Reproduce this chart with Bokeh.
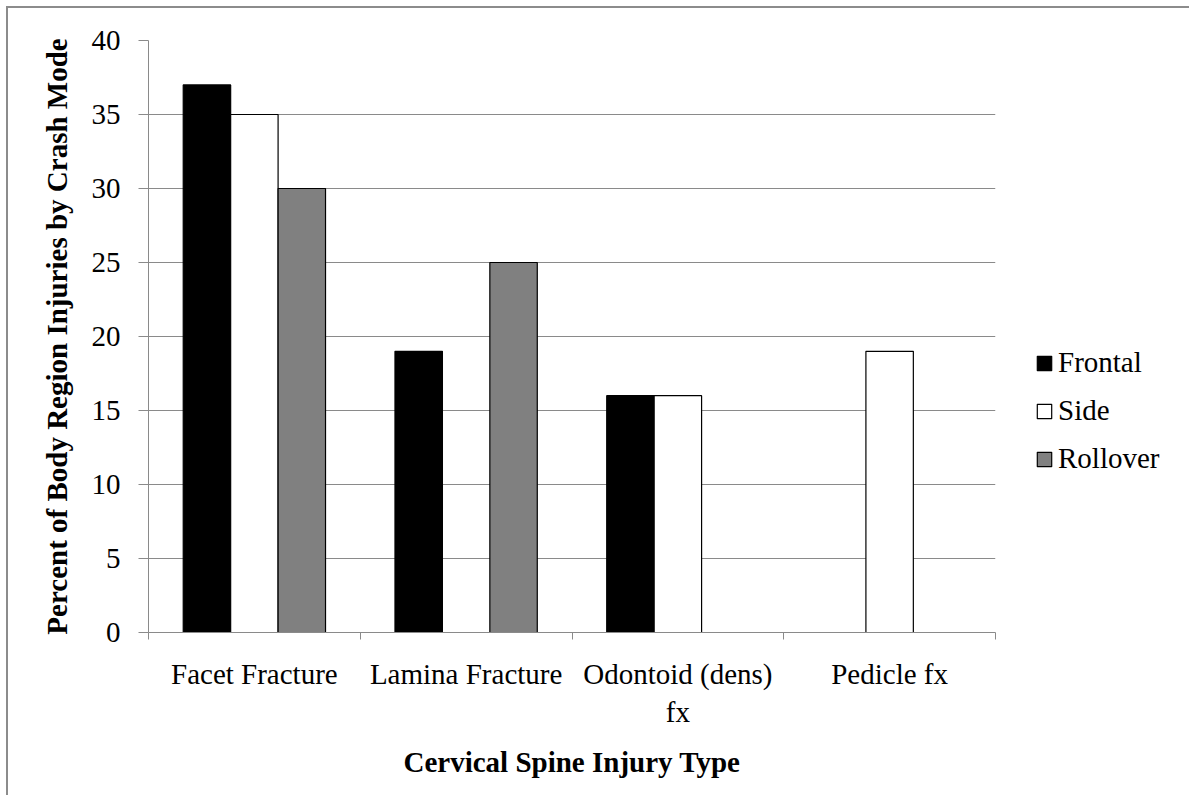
from bokeh.plotting import figure
from bokeh.models import (ColumnDataSource, Range1d, LinearAxis, FixedTicker, Legend, LegendItem)
from bokeh.transform import dodge
from bokeh.embed import file_html
from bokeh.resources import INLINE

# ---- data ----
categories = ["Facet Fracture", "Lamina Fracture", "Odontoid (dens) fx", "Pedicle fx"]
category_labels = ["Facet Fracture", "Lamina Fracture", "Odontoid (dens)\nfx", "Pedicle fx"]
series_names = ["Frontal", "Side", "Rollover"]
frontal = [37, 19, 16, 0]
side = [35, 0, 16, 19]
rollover = [30, 25, 0, 0]
y_ticks = [0, 5, 10, 15, 20, 25, 30, 35, 40]
x_title = "Cervical Spine Injury Type"
y_title = "Percent of Body Region Injuries by Crash Mode"

# ---- style ----
FONT = "Liberation Serif"
GRAY = "#8a8a8a"
fills = ["#000000", "#ffffff", "#808080"]
offsets = [-0.224, 0.0, 0.224]
bar_w = 0.224

n = len(categories)
centers = list(range(n))                      # category positions on the x scale
edges = [i - 0.5 for i in range(n + 1)]       # category boundaries (tick marks)

p = figure(x_range=Range1d(-0.5, n - 0.5), y_range=Range1d(0, 40),
           frame_width=847, frame_height=592,
           min_border_left=140, min_border_top=32, min_border_right=186, min_border_bottom=167,
           x_axis_location=None, output_backend="svg", toolbar_location=None)
p.outline_line_color = None
p.background_fill_color = "white"
p.border_fill_color = "white"
p.styles = {"margin-left": "6px", "margin-top": "6px",
            "border-left": "2px solid #8c8c8c", "border-top": "2px solid #8c8c8c",
            "border-right": "0", "border-bottom": "0",
            "outline": "none", "box-shadow": "none",
            "clip-path": "inset(0px 4px 4px 0px)"}

renderers = []
for name, vals, fill, off in zip(series_names, [frontal, side, rollover], fills, offsets):
    xs = [c for c, v in zip(centers, vals) if v > 0]
    tops = [v for v in vals if v > 0]
    src = ColumnDataSource(dict(x=xs, top=tops))
    r = p.vbar(x=dodge("x", off), top="top", width=bar_w, source=src,
               fill_color=fill, line_color="black", line_width=1.2)
    renderers.append((name, r))

# y axis
yax = p.yaxis[0]
yax.ticker = FixedTicker(ticks=y_ticks)
yax.axis_line_color = GRAY
yax.major_tick_line_color = GRAY
yax.major_tick_out = 10
yax.major_tick_in = 0
yax.minor_tick_line_color = None
yax.major_label_text_font = FONT
yax.major_label_text_font_size = "29px"
yax.major_label_text_color = "black"
yax.major_label_standoff = 18
yax.axis_label = y_title
yax.axis_label_text_font = FONT
yax.axis_label_text_font_style = "bold"
yax.axis_label_text_font_size = "29px"
yax.axis_label_text_color = "black"
yax.axis_label_standoff = 16

p.ygrid.ticker = FixedTicker(ticks=y_ticks)
p.ygrid.grid_line_color = GRAY
p.ygrid.grid_line_width = 1
p.xgrid.grid_line_color = None

# x axis: boundary tick marks (no labels)
edge_axis = LinearAxis(ticker=FixedTicker(ticks=edges),
                       major_label_overrides={e: "" for e in edges},
                       axis_line_color=GRAY, major_tick_line_color=GRAY,
                       major_tick_out=7, major_tick_in=0, minor_tick_line_color=None,
                       major_label_text_font_size="1px", major_label_standoff=0)
p.add_layout(edge_axis, "below")

# x axis: category labels at centers
label_axis = LinearAxis(ticker=FixedTicker(ticks=centers),
                        major_label_overrides={c: lab for c, lab in zip(centers, category_labels)},
                        axis_line_color=None, major_tick_line_color=None,
                        major_tick_out=0, major_tick_in=0, minor_tick_line_color=None,
                        major_label_text_font=FONT, major_label_text_font_size="29px",
                        major_label_text_color="black", major_label_standoff=18,
                        axis_label=x_title, axis_label_text_font=FONT,
                        axis_label_text_font_style="bold", axis_label_text_font_size="29px",
                        axis_label_text_color="black", axis_label_standoff=15)
p.add_layout(label_axis, "below")

legend = Legend(items=[LegendItem(label=nm, renderers=[r]) for nm, r in renderers],
                location=(40, 157), orientation="vertical",
                glyph_width=18, glyph_height=18, label_standoff=5, spacing=15,
                padding=0, margin=0, border_line_color=None, background_fill_alpha=0,
                label_text_font=FONT, label_text_font_size="29px", label_text_color="black")
p.add_layout(legend, "right")

open("out.html", "w").write(file_html(p, INLINE))
